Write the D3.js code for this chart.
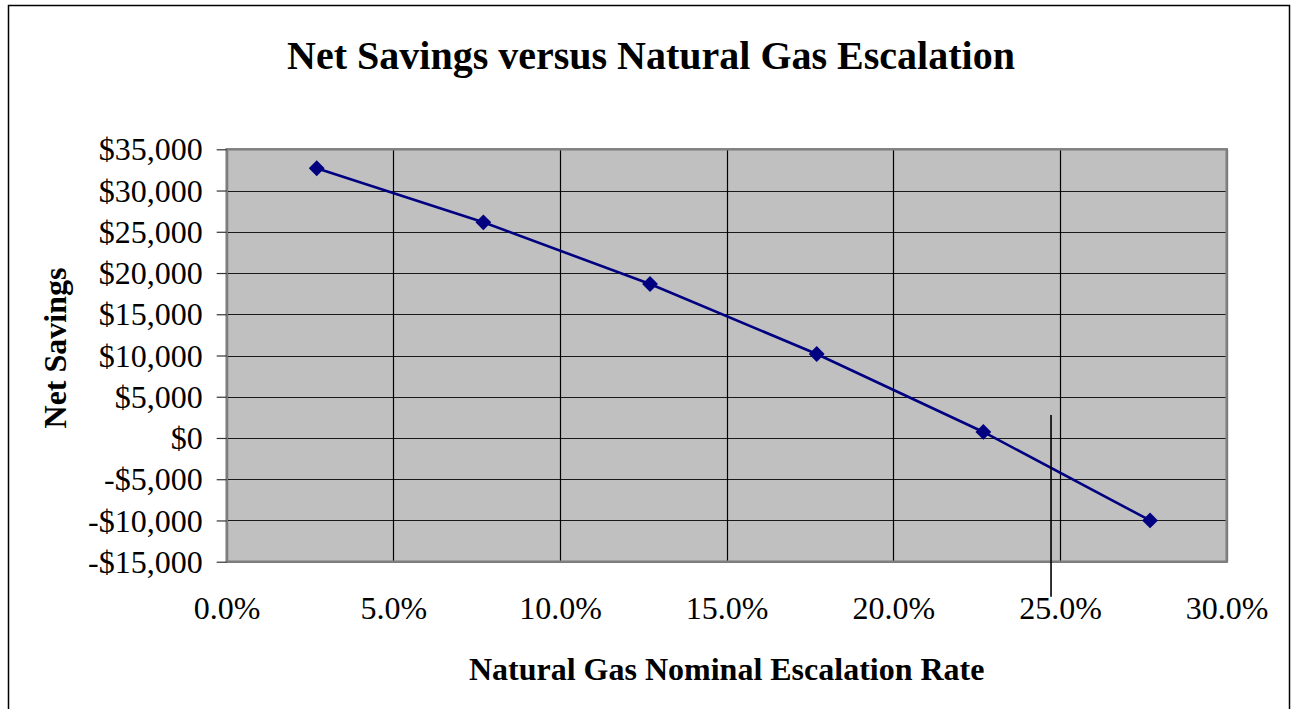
<!DOCTYPE html>
<html>
<head>
<meta charset="utf-8">
<script src="https://cdn.jsdelivr.net/npm/d3@7"></script>
<style>
  html, body { margin: 0; padding: 0; background: #fff; }
  svg { display: block; }
</style>
</head>
<body>
<svg id="chart" width="1294" height="709"></svg>
<script>
// ---- data ----
const escalationRates = [0.027, 0.077, 0.127, 0.177, 0.227, 0.277];
const netSavings = [32700, 26150, 18670, 10180, 730, -10000];
const xTickValues = [0, 0.05, 0.10, 0.15, 0.20, 0.25, 0.30];
const yTickValues = [-15000, -10000, -5000, 0, 5000, 10000, 15000, 20000, 25000, 30000, 35000];
const annotationX = [0.2473, 0.2473];
const annotationY = [2800, -19250];
const titleText = "Net Savings versus Natural Gas Escalation";
const xAxisTitle = "Natural Gas Nominal Escalation Rate";
const yAxisTitle = "Net Savings";

// ---- layout ----
const svg = d3.select("#chart");
const plot = { left: 226.7, right: 1226.7, top: 149.3, bottom: 561.7 };
const serif = "'Liberation Serif', 'Times New Roman', serif";

const x = d3.scaleLinear().domain([0, 0.30]).range([plot.left, plot.right]);
const y = d3.scaleLinear().domain([-15000, 35000]).range([plot.bottom, plot.top]);

// outer frame (bottom edge lies just outside the picture, as in the reference)
svg.append("rect")
  .attr("x", 8.5).attr("y", 5.5).attr("width", 1281).attr("height", 710)
  .attr("fill", "#fff").attr("stroke", "#000").attr("stroke-width", 1.5);

// title
svg.append("text")
  .attr("x", 651).attr("y", 69)
  .attr("text-anchor", "middle")
  .attr("font-family", serif).attr("font-weight", "bold").attr("font-size", 40)
  .text(titleText);

// plot background
svg.append("rect")
  .attr("x", plot.left).attr("y", plot.top)
  .attr("width", plot.right - plot.left).attr("height", plot.bottom - plot.top)
  .attr("fill", "#c0c0c0");

// horizontal gridlines
svg.append("g").selectAll("line").data(yTickValues).join("line")
  .attr("x1", plot.left).attr("x2", plot.right)
  .attr("y1", d => Math.round(y(d)) + 0.5).attr("y2", d => Math.round(y(d)) + 0.5)
  .attr("stroke", "#1a1a1a").attr("stroke-width", 1.2);

// vertical gridlines
svg.append("g").selectAll("line").data(xTickValues).join("line")
  .attr("x1", d => Math.round(x(d)) + 0.5).attr("x2", d => Math.round(x(d)) + 0.5)
  .attr("y1", plot.top).attr("y2", plot.bottom)
  .attr("stroke", "#000").attr("stroke-width", 1.2);

// plot border
svg.append("rect")
  .attr("x", plot.left).attr("y", plot.top)
  .attr("width", plot.right - plot.left).attr("height", plot.bottom - plot.top)
  .attr("fill", "none").attr("stroke", "#808080").attr("stroke-width", 2.5);

// y axis
const fmt = d3.format(",");
const yAxis = d3.axisLeft(y).tickValues(yTickValues).tickSize(10).tickPadding(14)
  .tickFormat(v => (v < 0 ? "-$" : "$") + fmt(Math.abs(v)));
const gy = svg.append("g").attr("transform", `translate(${plot.left},0)`).call(yAxis);
gy.select(".domain").remove();
gy.selectAll(".tick line").attr("stroke", "#333").attr("stroke-width", 1.2);
gy.selectAll(".tick text")
  .attr("font-family", serif).attr("font-size", 32).attr("fill", "#000")
  .attr("dy", "0.33em");

// x axis
const xAxis = d3.axisBottom(x).tickValues(xTickValues).tickSize(0).tickPadding(0)
  .tickFormat(d3.format(".1%"));
const gx = svg.append("g").attr("transform", `translate(0,${plot.bottom})`).call(xAxis);
gx.select(".domain").remove();
gx.selectAll(".tick text")
  .attr("font-family", serif).attr("font-size", 32).attr("fill", "#000")
  .attr("dy", 0).attr("y", 57);

// axis titles
svg.append("text")
  .attr("x", plot.left + (plot.right - plot.left) / 2).attr("y", 680)
  .attr("text-anchor", "middle")
  .attr("font-family", serif).attr("font-weight", "bold").attr("font-size", 32)
  .text(xAxisTitle);

svg.append("text")
  .attr("transform", `translate(66,348) rotate(-90)`)
  .attr("text-anchor", "middle")
  .attr("font-family", serif).attr("font-weight", "bold").attr("font-size", 32)
  .text(yAxisTitle);

// data line
const pts = escalationRates.map((r, i) => [r, netSavings[i]]);
svg.append("path").datum(pts)
  .attr("fill", "none").attr("stroke", "#000080").attr("stroke-width", 2.6)
  .attr("d", d3.line().x(d => x(d[0])).y(d => y(d[1])));

// markers
svg.append("g").selectAll("path").data(pts).join("path")
  .attr("transform", d => `translate(${x(d[0])},${y(d[1])}) rotate(45)`)
  .attr("d", d3.symbol().type(d3.symbolSquare).size(125))
  .attr("fill", "#000080");

// stray annotation line
svg.append("line")
  .attr("x1", x(annotationX[0])).attr("x2", x(annotationX[1]))
  .attr("y1", y(annotationY[0])).attr("y2", y(annotationY[1]))
  .attr("stroke", "#000").attr("stroke-width", 1.6);
</script>
</body>
</html>
